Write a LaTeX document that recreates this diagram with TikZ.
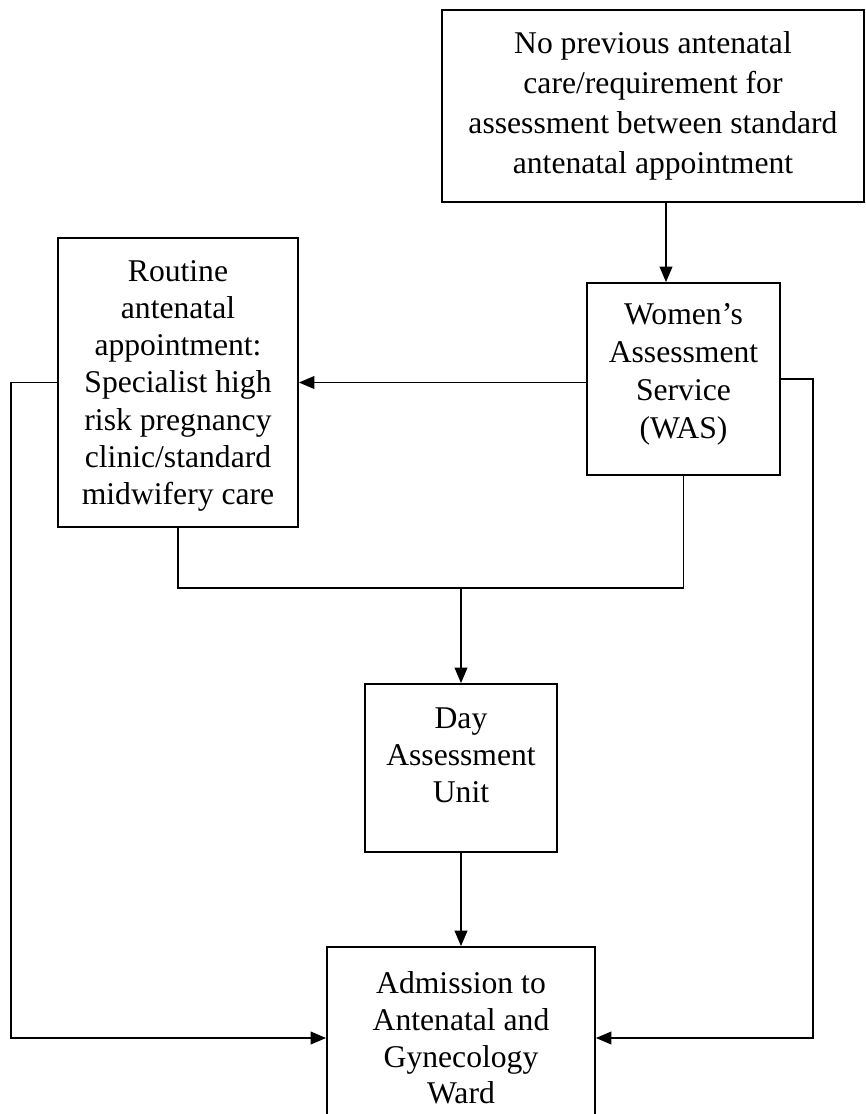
\documentclass[tikz,border=0pt]{standalone}
\usepackage{fontspec}
\setmainfont{Liberation Serif}
\usepackage{tikz}
\usetikzlibrary{arrows.meta}
\usetikzlibrary{positioning}

\tikzset{
  flowbox/.style={draw, line width=1.2pt, align=center, inner sep=0pt,
    font=\fontsize{22.5}{26.5}\selectfont},
  flowline/.style={line width=1.2pt},
  flowarrow/.style={line width=1.2pt, -{Triangle[length=11pt, width=9pt]}}
}

\begin{document}
\begin{tikzpicture}[x=0.025cm, y=-0.025cm]
      \useasboundingbox (0, 0) rectangle (866, 1114);

      \node[flowbox, minimum width=10.55cm, minimum height=4.8cm,
        font=\fontsize{22.5}{28.5}\selectfont] (nocare) at (653, 106)
        {No previous antenatal\\ care/requirement for\\ assessment between standard\\ antenatal appointment};
      \node[flowbox, minimum width=4.825cm, minimum height=4.8cm, text depth=0.4cm,
        font=\fontsize{22.5}{27}\selectfont] (was) at (683.5, 379)
        {Women's\\ Assessment\\ Service\\ (WAS)};
      \node[flowbox, minimum width=6cm, minimum height=7.225cm, text depth=0cm] (routine) at (178, 382.5)
        {Routine\\ antenatal\\ appointment:\\ Specialist high\\ risk pregnancy\\ clinic/standard\\ midwifery care};
      \node[flowbox, minimum width=4.8cm, minimum height=4.2cm, text depth=0.65cm] (day) at (461, 768)
        {Day\\ Assessment\\ Unit};
      \node[flowbox, minimum width=6.7cm, minimum height=4.55cm,
        font=\fontsize{22.5}{26}\selectfont] (admission) at (461, 1038)
        {Admission to\\ Antenatal and\\ Gynecology\\ Ward};

      \coordinate (drop) at (666, 0);
      \coordinate (join) at (461, 588);

      \draw[flowarrow] (nocare.south -| drop) -- (was.north -| drop);
      \draw[flowarrow] (was.west |- routine.east) -- (routine.east);
      \draw[flowarrow] (routine.west) -- ++(-46, 0) |- (admission.west);
      \draw[flowarrow] (was.east) -- ++(32, 0) |- (admission.east);

      \draw[flowline] (routine.south) |- (join) -| (was.south);
      \draw[flowarrow] (join) -- (day.north);
      \draw[flowarrow] (day.south) -- (admission.north);

    \end{tikzpicture}
\end{document}
